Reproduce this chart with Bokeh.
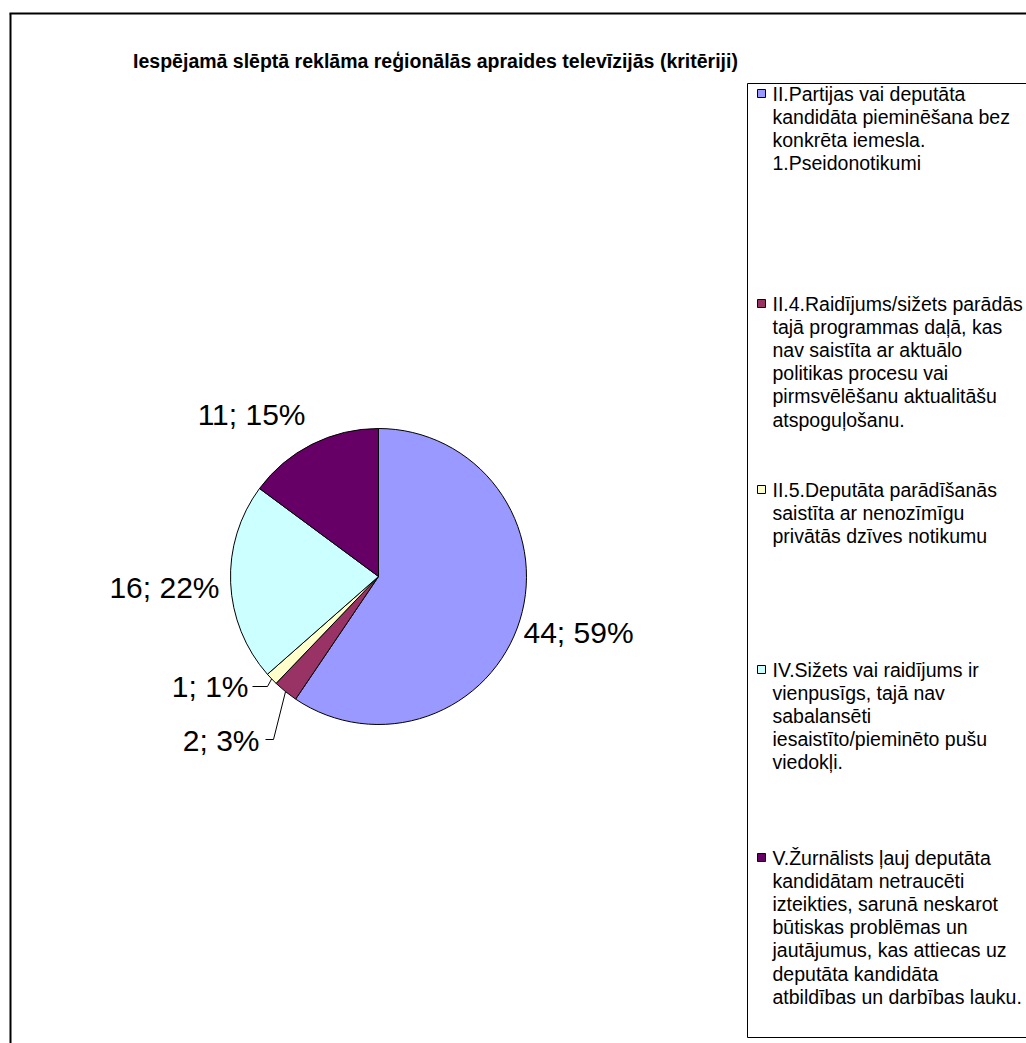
import numpy as np
from bokeh.plotting import figure
from bokeh.models import Range1d
from bokeh.core.properties import value
from bokeh.embed import file_html
from bokeh.resources import INLINE

# ---------------- data ----------------
title_text = "Iespējamā slēptā reklāma reģionālās apraides televīzijās (kritēriji)"
counts = [44, 2, 1, 16, 11]
colors = ["#9999FF", "#993366", "#FFFFCC", "#CCFFFF", "#660066"]
legend_lines = [
    ["II.Partijas vai deputāta", "kandidāta pieminēšana bez", "konkrēta iemesla.", "1.Pseidonotikumi"],
    ["II.4.Raidījums/sižets parādās", "tajā programmas daļā, kas", "nav saistīta ar aktuālo",
     "politikas procesu vai", "pirmsvēlēšanu aktualitāšu", "atspoguļošanu."],
    ["II.5.Deputāta parādīšanās", "saistīta ar nenozīmīgu", "privātās dzīves notikumu"],
    ["IV.Sižets vai raidījums ir", "vienpusīgs, tajā nav", "sabalansēti",
     "iesaistīto/pieminēto pušu", "viedokļi."],
    ["V.Žurnālists ļauj deputāta", "kandidātam netraucēti", "izteikties, sarunā neskarot",
     "būtiskas problēmas un", "jautājumus, kas attiecas uz", "deputāta kandidāta",
     "atbildības un darbības lauku."],
]

# ---------------- layout ----------------
W, H = 1026, 1043
FONT = "Liberation Sans"
p = figure(width=W, height=H, x_range=Range1d(0, W), y_range=Range1d(-H, 0),
           output_backend="svg", toolbar_location=None, min_border=0,
           x_axis_location=None, y_axis_location=None)
p.grid.visible = False
p.outline_line_color = None
p.background_fill_color = "white"
p.border_fill_color = "white"

# outer frame (cut off at right/bottom)
p.line(x=[10, 10], y=[-13, -1100], line_color="black", line_width=2)
p.line(x=[9, 1100], y=[-13, -13], line_color="black", line_width=2)

# title
p.text(x=[435], y=[-60], text=[title_text], text_font=value(FONT), text_font_style="bold",
       text_font_size="19.5px", text_align="center", text_baseline="middle", text_color="black")

# pie
cx, cy, r = 378, -576, 148
total = sum(counts)
fr = np.array(counts) / total
cum = np.concatenate([[0], np.cumsum(fr)])
start = np.pi / 2 - 2 * np.pi * cum[1:]
end = np.pi / 2 - 2 * np.pi * cum[:-1]
p.wedge(x=cx, y=cy, radius=r, start_angle=start, end_angle=end,
        fill_color=colors, line_color="black", line_width=1)

# labels
labels = [f"{c}; {round(100 * c / total)}%" for c in counts]
lab_x = [523, 259, 248, 219, 305]
lab_y = [-632, -740, -686, -587, -414]
lab_align = ["left", "right", "right", "right", "right"]
for t, x, y, a in zip(labels, lab_x, lab_y, lab_align):
    p.text(x=[x], y=[y], text=[t], text_font=value(FONT), text_font_size="30px",
           text_align=a, text_baseline="middle", text_color="black")

# leader lines for small slices (index 1 and 2)
mid = 2 * np.pi * (cum[:-1] + cum[1:]) / 2
for i, (bx, by, ex) in {1: (273, -739, 265), 2: (267, -686, 252)}.items():
    ax = cx + r * np.sin(mid[i])
    ay = cy + r * np.cos(mid[i])
    p.line(x=[ax, bx, ex], y=[ay, by, by], line_color="black", line_width=1)

# legend box
p.quad(left=747, right=1100, top=-83, bottom=-1037, fill_color="white", line_color="black", line_width=1)
first_y = [93, 303, 489, 669, 857]
lh = 23.2
for lines, y0, col in zip(legend_lines, first_y, colors):
    p.rect(x=[761], y=[-y0], width=8, height=8, fill_color=col, line_color="black", line_width=1)
    ys = [-(y0 + k * lh) for k in range(len(lines))]
    p.text(x=[772] * len(lines), y=ys, text=lines, text_font=value(FONT), text_font_size="19.5px",
           text_align="left", text_baseline="middle", text_color="black")

open("out.html", "w").write(file_html(p, INLINE))
